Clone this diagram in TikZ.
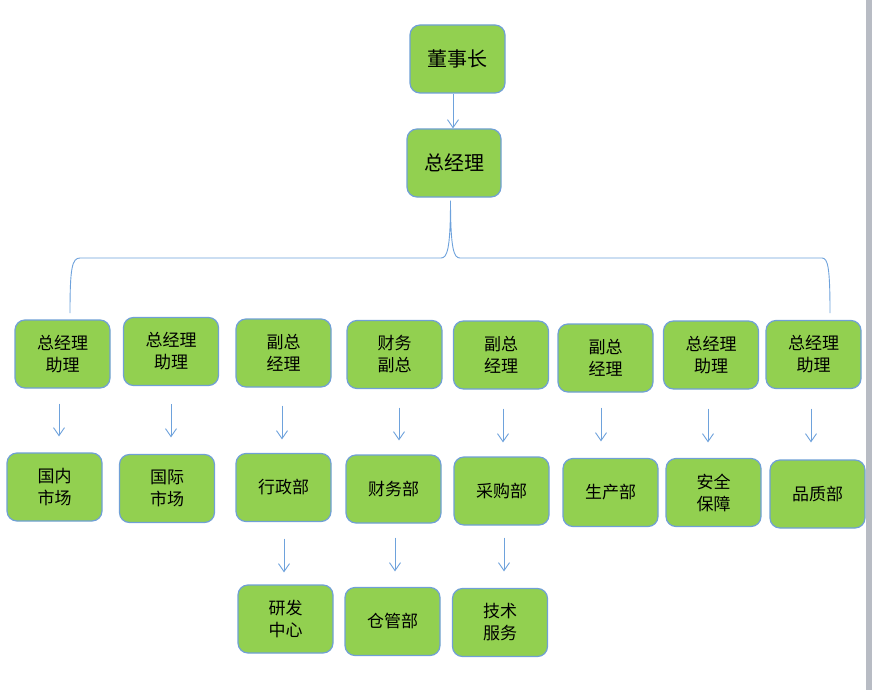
\documentclass[tikz,border=0pt]{standalone}
\usepackage{fontspec}
\newfontfamily\cjk{Noto Sans CJK SC}
\usetikzlibrary{arrows.meta}
\definecolor{boxg}{RGB}{146,208,80}
\definecolor{bordc}{RGB}{112,160,214}
\definecolor{linec}{RGB}{110,162,220}
\definecolor{stripe}{RGB}{184,188,196}
\tikzset{
  box/.style={draw=bordc, fill=boxg, rounded corners=10pt, line width=1.2pt,
    minimum width=95pt, minimum height=68pt, inner sep=0pt, align=center,
    font=\cjk\fontsize{17}{22}\selectfont, text=black},
  topbox/.style={box, font=\cjk\fontsize{20}{24}\selectfont},
  link/.style={draw=linec, line width=0.9pt},
  arr/.style={link, -{Straight Barb[length=8pt,width=11pt,line width=0.9pt]}}
}
\begin{document}
\begin{tikzpicture}[x=1pt,y=-1pt]
\useasboundingbox (0,0) rectangle (872,690);
\fill[white] (0,0) rectangle (872,690);
\fill[stripe] (866,0) rectangle (872,690);

% top
\node[topbox] (d) at (457.5,59) {董事长};
\node[topbox, minimum width=94pt] (z) at (454,163) {总经理};

% row 1
\node[box] (a1) at (62.5,354) {总经理\\助理};
\node[box] (a2) at (171,351.5) {总经理\\助理};
\node[box] (a3) at (283.5,353) {副总\\经理};
\node[box] (a4) at (394.5,354.5) {财务\\副总};
\node[box] (a5) at (501,355) {副总\\经理};
\node[box] (a6) at (605.5,358) {副总\\经理};
\node[box] (a7) at (711,355) {总经理\\助理};
\node[box] (a8) at (813.5,354.5) {总经理\\助理};

% row 2
\node[box] (b1) at (54.5,487) {国内\\市场};
\node[box] (b2) at (167,488.5) {国际\\市场};
\node[box] (b3) at (283.5,487.5) {行政部};
\node[box] (b4) at (393.5,489) {财务部};
\node[box] (b5) at (501.5,491) {采购部};
\node[box] (b6) at (610.5,492.5) {生产部};
\node[box] (b7) at (713.5,492.5) {安全\\保障};
\node[box] (b8) at (817.5,494) {品质部};

% row 3
\node[box] (c1) at (285.5,619) {研发\\中心};
\node[box] (c2) at (392.5,621.5) {仓管部};
\node[box] (c3) at (500,622.5) {技术\\服务};

% top arrow
\draw[arr] ([xshift=-4.5pt]d.south) -- ([xshift=-1pt]z.north);

% bracket
\coordinate (bl) at (70,313);
\coordinate (br) at (830,313);
\draw[link] (bl) .. controls (70,268) and (72,258) .. (80,258) -- (441,258)
  .. controls (447,258) and (450.5,250) .. ([xshift=-3.5pt,yshift=-3pt]z.south)
  .. controls (450.5,250) and (454,258) .. (460,258) -- (822,258)
  .. controls (828,258) and (830,268) .. (br);

% row1 -> row2 arrows
\draw[arr] ([xshift=-3.5pt,yshift=-15pt]a1.south) -- ([xshift=4.5pt,yshift=16pt]b1.north);
\draw[arr] ([xshift=0pt,yshift=-18pt]a2.south) -- ([xshift=4pt,yshift=16.5pt]b2.north);
\draw[arr] ([xshift=-1.5pt,yshift=-18pt]a3.south) -- ([xshift=-1.5pt,yshift=13.5pt]b3.north);
\draw[arr] ([xshift=4.5pt,yshift=-18.5pt]a4.south) -- ([xshift=5.5pt,yshift=14pt]b4.north);
\draw[arr] ([xshift=2pt,yshift=-19pt]a5.south) -- ([xshift=1.5pt,yshift=14pt]b5.north);
\draw[arr] ([xshift=-4.5pt,yshift=-15pt]a6.south) -- ([xshift=-9.5pt,yshift=16.5pt]b6.north);
\draw[arr] ([xshift=-3pt,yshift=-19pt]a7.south) -- ([xshift=-5.5pt,yshift=15.5pt]b7.north);
\draw[arr] ([xshift=-2.5pt,yshift=-19.5pt]a8.south) -- ([xshift=-6.5pt,yshift=17pt]b8.north);

% row2 -> row3 arrows
\draw[arr] ([xshift=0.5pt,yshift=-16.5pt]b3.south) -- ([xshift=-1.5pt,yshift=12pt]c1.north);
\draw[arr] ([xshift=1.5pt,yshift=-14pt]b4.south) -- ([xshift=2.5pt,yshift=15.5pt]c2.north);
\draw[arr] ([xshift=2.5pt,yshift=-12pt]b5.south) -- ([xshift=4pt,yshift=16.5pt]c3.north);
\end{tikzpicture}
\end{document}
